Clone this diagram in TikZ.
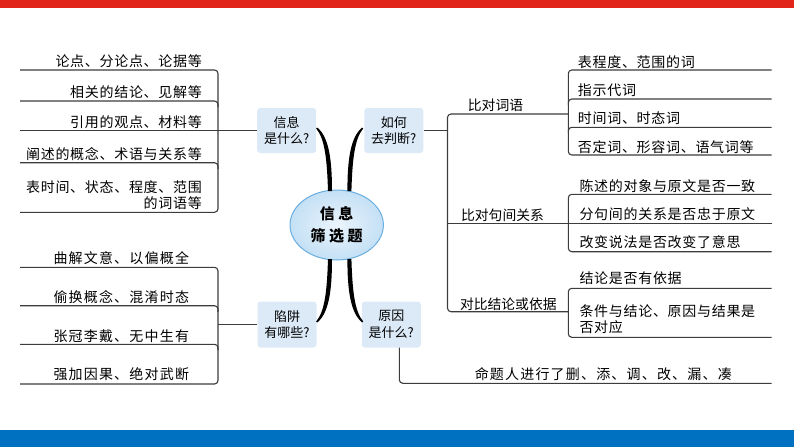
\documentclass[tikz,border=0pt]{standalone}
\usepackage{fontspec}
\setmainfont{Noto Sans CJK SC}
\newfontfamily\leaffont{Noto Sans CJK SC}[LetterSpace=5]
\newfontfamily\wideleaf{Noto Sans CJK SC}[LetterSpace=8.5]
\newfontfamily\boxfont{Noto Sans CJK SC}
\usetikzlibrary{shapes.geometric}
\definecolor{topred}{HTML}{E1251B}
\definecolor{botblue}{HTML}{0070C0}
\definecolor{linegray}{HTML}{3C3C3C}
\definecolor{boxblue}{HTML}{DCEAF7}
\definecolor{ellborder}{HTML}{6AAEE0}
\definecolor{ellin}{HTML}{EAF4FC}
\definecolor{ellout}{HTML}{C4E0F5}
\tikzset{
  ln/.style={draw=linegray, line width=1.1pt},
  brk/.style={ln, rounded corners=3.5pt},
  leaf/.style={inner sep=0pt, font=\leaffont\fontsize{14}{16.3}\selectfont},
  wleaf/.style={inner sep=0pt, font=\wideleaf\fontsize{14}{16.3}\selectfont},
  sub/.style={inner sep=0pt, font=\boxfont\fontsize{13.8}{16}\selectfont},
  qbox/.style={fill=boxblue, rounded corners=3pt, minimum width=59pt, minimum height=45pt,
    align=center, inner sep=0pt, font=\boxfont\fontsize{13}{16.6}\selectfont},
  taper/.style={fill=black}
}
\begin{document}
\begin{tikzpicture}[x=1pt,y=-1pt]
\useasboundingbox (0,0) rectangle (794,447);
\fill[topred] (0,0) rectangle (794,8);
\fill[botblue] (0,430) rectangle (794,447);

% centre
\node[ellipse, draw=ellborder, line width=1pt, inner color=ellin, outer color=ellout,
  minimum width=93.4pt, minimum height=70pt, inner sep=0pt, align=center,
  font=\boxfont\bfseries\fontsize{15}{21.7}\selectfont] (c) at (336.7,225)
  {信\hspace{3.5pt}息\\筛\hspace{3.5pt}选\hspace{3.5pt}题};

% question boxes
\node[qbox] (info) at (286.7,130.5) {信息\\是什么?};
\node[qbox] (how) at (393.8,130.5) {如何\\去判断?};
\node[qbox, minimum height=46pt] (trap) at (287,324.5) {陷阱\\有哪些?};
\node[qbox, minimum height=46pt] (why) at (391.3,324.5) {原因\\是什么?};

% tapered branches
\begin{scope}[shift={(330,191)}]
  \fill[taper] (-2,0) .. controls (-3,-31) and (-5,-52) .. (-13.8,-62.5)
    -- (-12.8,-63.5) .. controls (-1,-54) and (2,-31) .. (2,0) -- cycle;
\end{scope}
\begin{scope}[shift={(349.4,191)}, xscale=-1]
  \fill[taper] (-2,0) .. controls (-3,-31) and (-5,-52) .. (-13.8,-62.5)
    -- (-12.8,-63.5) .. controls (-1,-54) and (2,-31) .. (2,0) -- cycle;
\end{scope}
\begin{scope}[shift={(330,259)}, yscale=-1]
  \fill[taper] (-2,0) .. controls (-3,-31) and (-5,-52) .. (-13.8,-62.5)
    -- (-12.8,-63.5) .. controls (-1,-54) and (2,-31) .. (2,0) -- cycle;
\end{scope}
\begin{scope}[shift={(349.4,259)}, xscale=-1, yscale=-1]
  \fill[taper] (-2,0) .. controls (-3,-31) and (-5,-52) .. (-13.8,-62.5)
    -- (-12.8,-63.5) .. controls (-1,-54) and (2,-31) .. (2,0) -- cycle;
\end{scope}

% ---------- upper left ----------
\coordinate (L) at (20,0);
\draw[brk] (20,70) -- (218,70) -- (218,212.3) -- (20,212.3);
\draw[brk] (20,101) -- (218,101) -- (218,107);
\draw[brk] (20,162.7) -- (218,162.7) -- (218,169);
\draw[ln] (info.west) -- (info.west -| L);
\node[leaf, anchor=east] (a1) at (202,60.7) {论点、分论点、论据等};
\node[leaf, anchor=east] (a2) at (202,91.7) {相关的结论、见解等};
\node[leaf, anchor=east] (a3) at (202,122) {引用的观点、材料等};
\node[leaf, anchor=east] (a4) at (202,154) {阐述的概念、术语与关系等};
\node[leaf, anchor=east, align=right] (a5) at (202,195) {表时间、状态、程度、范围\\的词语等};

% ---------- lower left ----------
\draw[brk] (20,267.3) -- (218,267.3) -- (218,384) -- (20,384);
\draw[brk] (20,305.7) -- (218,305.7) -- (218,312);
\draw[brk] (20,344.3) -- (218,344.3) -- (218,350);
\coordinate (LB) at (218,0);
\draw[ln] (trap.west) -- (trap.west -| LB);
\node[wleaf, anchor=west] (b1) at (53.3,258.3) {曲解文意、以偏概全};
\node[wleaf, anchor=west] (b2) at (53.3,296.7) {偷换概念、混淆时态};
\node[wleaf, anchor=west] (b3) at (53.3,336) {张冠李戴、无中生有};
\node[wleaf, anchor=west] (b4) at (53.3,374.3) {强加因果、绝对武断};

% ---------- right ----------
\coordinate (RM) at (447.5,0);
\draw[ln] (how.east) -- (how.east -| RM);
\draw[brk] (568.3,114) -- (447.5,114) -- (447.5,311.7) -- (568.3,311.7);
\draw[ln] (447.5,223.3) -- (771.7,223.3);
\node[sub] (s1) at (495.5,105) {比对词语};
\node[sub] (s2) at (502.5,215) {比对句间关系};
\node[sub] (s3) at (508.3,304.3) {对比结论或依据};

\draw[brk] (771.7,70) -- (568.3,70) -- (568.3,155) -- (771.7,155);
\draw[brk] (771.7,99) -- (568.3,99) -- (568.3,105);
\draw[brk] (771.7,127.3) -- (568.3,127.3) -- (568.3,133);
\node[leaf, anchor=west] (r1) at (577.7,61.7) {表程度、范围的词};
\node[leaf, anchor=west] (r2) at (577.7,90) {指示代词};
\node[leaf, anchor=west] (r3) at (577.7,118.3) {时间词、时态词};
\node[leaf, anchor=west] (r4) at (577.7,146.7) {否定词、形容词、语气词等};

\draw[brk] (771.7,194.3) -- (568.3,194.3) -- (568.3,251.7) -- (771.7,251.7);
\node[leaf, anchor=west] (r5) at (579.3,186) {陈述的对象与原文是否一致};
\node[leaf, anchor=west] (r6) at (579.3,214.3) {分句间的关系是否忠于原文};
\node[leaf, anchor=west] (r7) at (579.3,242.3) {改变说法是否改变了意思};

\draw[brk] (771.7,288.3) -- (568.3,288.3) -- (568.3,337.3) -- (771.7,337.3);
\node[leaf, anchor=west] (r8) at (579.3,278.3) {结论是否有依据};
\node[leaf, anchor=west, align=left] (r9) at (579.3,319.3) {条件与结论、原因与结果是\\否对应};

\coordinate (wb) at ([xshift=8pt]why.south);
\coordinate (RE) at (771.7,383.3);
\draw[brk] (wb) -- (wb |- RE) -- (RE);
\node[wleaf] (r10) at (603.3,374.3) {命题人进行了删、添、调、改、漏、凑};
\end{tikzpicture}
\end{document}
